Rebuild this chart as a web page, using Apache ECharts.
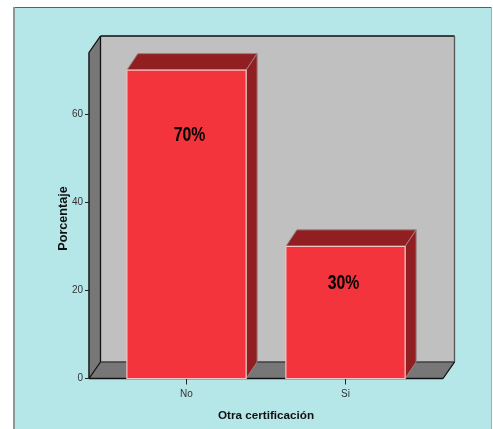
<!DOCTYPE html>
<html>
<head>
<meta charset="utf-8">
<style>html,body{margin:0;padding:0;background:#fff}#c{width:493px;height:429px}</style>
<script src="https://cdn.jsdelivr.net/npm/echarts@6/dist/echarts.min.js"></script>
</head>
<body>
<div id="c"></div>
<script>
// Bar values and their printed labels
const categories = ['No', 'Si'];
const percentages = [70, 30];
const valueLabels = ['70%', '30%'];
const labelHeights = [55.4, 21.8];
const labelShifts = [3, -2];
const yTicks = [0, 20, 40, 60];
const yMax = 74;

// Oblique depth of the 3D box and of each bar, in pixels
const DEPTH_X = 11.5, DEPTH_Y = 16.5, BAR_DX = 11, BAR_DY = 16.5;
const FLOOR_PAD = 18;

const chart = echarts.init(document.getElementById('c'), null, {renderer: 'canvas'});

function poly(points, fill, stroke, lw) {
  return {type: 'polygon', shape: {points}, style: {fill, stroke: stroke || fill, lineWidth: lw || 1}};
}
function seg(x1, y1, x2, y2, stroke, lw) {
  return {type: 'line', shape: {x1, y1, x2, y2}, style: {stroke, lineWidth: lw || 1}};
}

// Back wall, left wall and floor of the box
function renderBox(params, api) {
  const g = params.coordSys;
  const l = g.x - FLOOR_PAD, r = g.x + g.width + FLOOR_PAD;
  const t = g.y, b = g.y + g.height;
  const dx = DEPTH_X, dy = DEPTH_Y;
  return {type: 'group', children: [
    poly([[l + dx, t - dy], [r + dx, t - dy], [r + dx, b - dy], [l + dx, b - dy]], '#c0c0c0'),
    poly([[l, t], [l + dx, t - dy], [l + dx, b - dy], [l, b]], '#777777'),
    poly([[l, b], [l + dx, b - dy], [r + dx, b - dy], [r, b]], '#777777'),
    seg(l + dx, t - dy, r + dx, t - dy, '#111', 1.3),
    seg(l + dx, t - dy, l + dx, b - dy, '#111', 1.3),
    seg(l + dx, b - dy, r + dx, b - dy, '#222', 1),
    seg(r + dx, t - dy, r + dx, b - dy, '#555', 1.3),
    seg(l, t, l + dx, t - dy, '#111', 1.3),
    seg(l, b, l + dx, b - dy, '#111', 1.3),
    seg(r, b, r + dx, b - dy, '#111', 1.3),
    seg(l, t, l, b, '#111', 1.3),
    seg(l, b, r, b, '#111', 1.5)
  ]};
}

// One extruded bar with its label, the text squeezed to a condensed width
function renderBar(params, api) {
  const i = api.value(0);
  const top = api.coord([i, api.value(1)]);
  const base = api.coord([i, 0]);
  const w = api.size([1, 0])[0] * 0.75;
  const x0 = top[0] - w / 2, x1 = top[0] + w / 2;
  const y0 = top[1], y1 = base[1];
  const labelPos = api.coord([i, api.value(2)]);
  return {type: 'group', children: [
    poly([[x0, y0], [x0 + BAR_DX, y0 - BAR_DY], [x1 + BAR_DX, y0 - BAR_DY], [x1, y0]], '#911f22', '#9a8080'),
    poly([[x1, y0], [x1 + BAR_DX, y0 - BAR_DY], [x1 + BAR_DX, y1 - BAR_DY], [x1, y1]], '#911f22', '#9a8080'),
    {type: 'rect', shape: {x: x0, y: y0, width: w, height: y1 - y0},
      style: {fill: '#f4343c', stroke: '#f0c4c4', lineWidth: 1.2}},
    {type: 'text', x: labelPos[0] + labelShifts[i], y: labelPos[1] + 1, scaleX: 0.79, style: {
      x: 0, y: 0, text: valueLabels[i],
      font: 'bold 20px "Liberation Sans", sans-serif',
      fill: '#000', align: 'center', verticalAlign: 'middle'}}
  ]};
}

chart.setOption({
  animation: false,
  backgroundColor: '#ffffff',
  grid: {left: 107, width: 318, top: 52.5, height: 326},
  graphic: [
    {type: 'rect', z: -10, shape: {x: 14, y: 7, width: 477.5, height: 423},
      style: {fill: '#b5e6e8', stroke: null}},
    {type: 'line', z: -9, shape: {x1: 14, y1: 7.5, x2: 492, y2: 7.5}, style: {stroke: '#4f6466', lineWidth: 1}},
    {type: 'line', z: -9, shape: {x1: 14, y1: 7, x2: 14, y2: 429}, style: {stroke: '#8a9a9b', lineWidth: 2}},
    {type: 'line', z: -9, shape: {x1: 491.5, y1: 7, x2: 491.5, y2: 429}, style: {stroke: '#8fb5b7', lineWidth: 1}}
  ],
  xAxis: {
    type: 'category',
    data: categories,
    name: 'Otra certificación',
    nameLocation: 'middle',
    nameGap: 31,
    nameTextStyle: {fontFamily: 'Liberation Sans', fontWeight: 'bold', fontSize: 11.7, color: '#111'},
    axisLine: {show: false},
    axisTick: {show: true, alignWithLabel: true, length: 6, lineStyle: {color: '#222'}},
    axisLabel: {fontFamily: 'Liberation Sans', fontSize: 10, color: '#333', margin: 11},
    splitLine: {show: false}
  },
  yAxis: {
    type: 'value',
    min: 0,
    max: yMax,
    offset: FLOOR_PAD,
    name: 'Porcentaje',
    nameLocation: 'middle',
    nameGap: 19,
    nameMoveOverlap: false,
    nameTextStyle: {fontFamily: 'Liberation Sans', fontWeight: 'bold', fontSize: 12.6, color: '#111', padding: [0, 6, 0, 0]},
    axisLine: {show: false},
    axisTick: {show: true, length: 4, customValues: yTicks, lineStyle: {color: '#222'}},
    axisLabel: {fontFamily: 'Liberation Sans', fontSize: 10, color: '#333', margin: 6, customValues: yTicks},
    splitLine: {show: false}
  },
  series: [
    {type: 'custom', z: 1, clip: false, silent: true, renderItem: renderBox, data: [[0, 0]]},
    {type: 'custom', z: 2, clip: false, silent: true, renderItem: renderBar,
      encode: {x: 0, y: 1},
      data: percentages.map((v, i) => [i, v, labelHeights[i]])}
  ]
});
</script>
</body>
</html>
